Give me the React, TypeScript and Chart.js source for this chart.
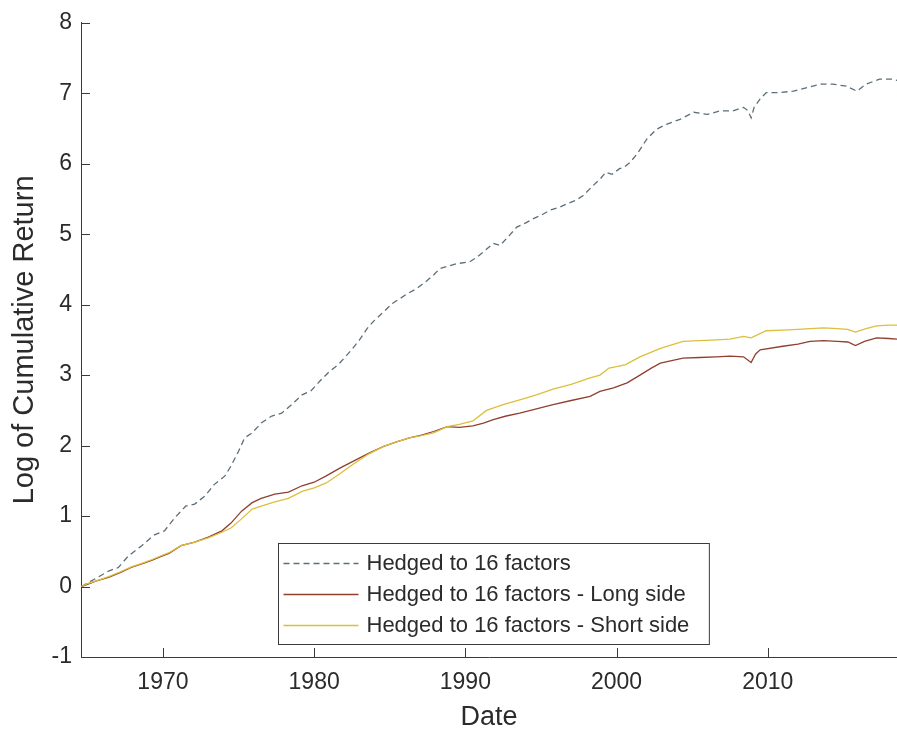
import React, { useEffect, useRef } from 'react';
import { Chart, registerables } from 'chart.js';

Chart.register(...registerables);

// ---- Data ----
const hedgedYears = [
  1964.6, 1965.0, 1965.6, 1966.4, 1967.05, 1967.7, 1968.6, 1969.4, 1970.1, 1970.8,
  1971.5, 1972.1, 1972.8, 1973.4, 1974.1, 1974.5, 1975.0, 1975.4, 1975.9, 1976.5,
  1977.2, 1977.85, 1978.5, 1979.2, 1979.8, 1980.4, 1981.0, 1981.6, 1982.4, 1983.0,
  1983.5, 1984.0, 1984.6, 1985.2, 1985.7, 1986.2, 1986.8, 1987.4, 1987.9, 1988.3,
  1988.9, 1989.4, 1990.3, 1990.8, 1991.2, 1991.85, 1992.3, 1992.9, 1993.4, 1994.0,
  1994.5, 1995.1, 1995.6, 1996.2, 1996.7, 1997.3, 1997.8, 1998.4, 1998.9, 1999.3,
  1999.7, 2000.2, 2000.5, 2000.9, 2001.4, 2002.0, 2002.65, 2003.3, 2004.2, 2005.1,
  2006.0, 2006.85, 2007.7, 2008.4, 2008.7, 2008.9, 2009.1, 2009.5, 2009.9, 2010.8,
  2011.7, 2012.6, 2013.5, 2014.3, 2015.2, 2015.9, 2016.5, 2017.4, 2018.3, 2018.6,
];
const hedgedValues = [
  0.0, 0.05, 0.12, 0.22, 0.27, 0.43, 0.58, 0.73, 0.79, 0.98,
  1.14, 1.17, 1.29, 1.45, 1.57, 1.71, 1.92, 2.11, 2.18, 2.32,
  2.42, 2.46, 2.58, 2.72, 2.78, 2.92, 3.05, 3.15, 3.34, 3.5,
  3.66, 3.78, 3.9, 4.02, 4.09, 4.16, 4.23, 4.33, 4.42, 4.51,
  4.55, 4.58, 4.61, 4.68, 4.75, 4.87, 4.84, 4.98, 5.1, 5.16,
  5.22, 5.28, 5.34, 5.38, 5.43, 5.48, 5.55, 5.68, 5.78, 5.88,
  5.85, 5.93, 5.95, 6.02, 6.15, 6.35, 6.49, 6.56, 6.63, 6.73,
  6.7, 6.75, 6.75, 6.8, 6.75, 6.65, 6.8, 6.92, 7.01, 7.01,
  7.03, 7.08, 7.13, 7.13, 7.1, 7.03, 7.13, 7.2, 7.2, 7.18,
];

const longYears = [
  1964.6, 1965.0, 1965.6, 1966.4, 1967.2, 1967.9, 1968.6, 1969.25, 1969.8, 1970.4,
  1971.2, 1972.1, 1973.0, 1973.9, 1974.5, 1975.2, 1975.9, 1976.5, 1977.4, 1978.3,
  1979.2, 1980.0, 1980.8, 1981.7, 1982.6, 1983.6, 1984.6, 1985.4, 1986.3, 1987.1,
  1987.9, 1988.8, 1989.6, 1990.5, 1991.2, 1991.85, 1992.7, 1993.6, 1994.7, 1995.8,
  1997.0, 1998.25, 1998.9, 1999.8, 2000.7, 2001.55, 2002.3, 2002.9, 2004.4, 2005.5,
  2006.6, 2007.5, 2008.4, 2008.9, 2009.2, 2009.5, 2011.0, 2012.0, 2012.8, 2013.7,
  2014.6, 2015.3, 2015.8, 2016.4, 2017.2, 2018.0, 2018.6,
];
const longValues = [
  0.0, 0.03, 0.08, 0.13, 0.2, 0.27, 0.32, 0.37, 0.42, 0.47,
  0.58, 0.63, 0.7, 0.79, 0.9, 1.07, 1.19, 1.25, 1.31, 1.34,
  1.43, 1.48, 1.57, 1.68, 1.78, 1.89, 1.99, 2.05, 2.11, 2.15,
  2.2, 2.27, 2.26, 2.28, 2.32, 2.37, 2.42, 2.46, 2.52, 2.58,
  2.64, 2.7, 2.77, 2.82, 2.89, 3.0, 3.1, 3.17, 3.24, 3.25,
  3.26, 3.27, 3.26, 3.18, 3.3, 3.36, 3.41, 3.44, 3.48, 3.49,
  3.48, 3.47, 3.42, 3.48, 3.53, 3.52, 3.51,
];

const shortYears = [
  1964.6, 1965.0, 1965.6, 1966.4, 1967.2, 1967.9, 1968.6, 1969.25, 1969.8, 1970.4,
  1971.2, 1972.1, 1973.0, 1973.9, 1974.5, 1975.2, 1975.9, 1976.5, 1977.4, 1978.3,
  1979.2, 1980.0, 1980.8, 1981.7, 1982.6, 1983.6, 1984.6, 1985.4, 1986.3, 1987.1,
  1987.9, 1988.8, 1989.6, 1990.5, 1991.4, 1992.5, 1993.6, 1994.7, 1995.8, 1997.0,
  1998.25, 1998.9, 1999.5, 2000.0, 2000.6, 2001.55, 2002.9, 2004.4, 2005.5, 2006.6,
  2007.5, 2008.4, 2008.9, 2009.9, 2011.0, 2012.0, 2012.8, 2013.7, 2014.6, 2015.3,
  2015.8, 2016.5, 2017.2, 2018.0, 2018.6,
];
const shortValues = [
  0.0, 0.04, 0.08, 0.14, 0.21, 0.28, 0.33, 0.38, 0.43, 0.48,
  0.58, 0.63, 0.69, 0.77, 0.83, 0.96, 1.1, 1.14, 1.2, 1.25,
  1.35, 1.4, 1.47, 1.6, 1.74, 1.88, 1.99, 2.05, 2.11, 2.14,
  2.18, 2.27, 2.3, 2.35, 2.5, 2.58, 2.65, 2.72, 2.8, 2.87,
  2.96, 3.0, 3.1, 3.12, 3.15, 3.26, 3.38, 3.48, 3.49, 3.5,
  3.51, 3.55, 3.53, 3.63, 3.64, 3.65, 3.66, 3.67, 3.66, 3.65,
  3.61, 3.66, 3.7, 3.71, 3.71,
];

const seriesLabels = [
  'Hedged to 16 factors',
  'Hedged to 16 factors - Long side',
  'Hedged to 16 factors - Short side',
];
const xTickYears = [1970, 1980, 1990, 2000, 2010];
const yTickValues = [-1, 0, 1, 2, 3, 4, 5, 6, 7, 8];
const xRange = [1964.58, 2018.55];
const yRange = [-1, 8];
const xTitle = 'Date';
const yTitle = 'Log of Cumulative Return';

const FONT = "'Liberation Sans', Arial, Helvetica, sans-serif";
const TEXT = '#2b2b2b';
const AXIS = '#3a3a3a';
const COLORS = ['#5b6f78', '#8f4030', '#dcbf3a'];

const toPoints = (xs: number[], ys: number[]) => xs.map((x, i) => ({ x, y: ys[i] }));

export default function App() {
  const ref = useRef<HTMLCanvasElement>(null);

  useEffect(() => {
    const canvas = ref.current;
    if (!canvas) return;

    const inwardTicks = {
      id: 'inwardTicks',
      afterDraw(chart: any) {
        const { ctx, chartArea, scales } = chart;
        const len = 9;
        ctx.save();
        ctx.strokeStyle = AXIS;
        ctx.lineWidth = 1;
        ctx.beginPath();
        scales.x.ticks.forEach((t: any) => {
          const px = Math.round(scales.x.getPixelForValue(t.value)) + 0.5;
          ctx.moveTo(px, chartArea.bottom);
          ctx.lineTo(px, chartArea.bottom - len);
        });
        scales.y.ticks.forEach((t: any) => {
          const py = Math.round(scales.y.getPixelForValue(t.value)) + 0.5;
          ctx.moveTo(chartArea.left, py);
          ctx.lineTo(chartArea.left + len, py);
        });
        ctx.stroke();
        ctx.restore();
      },
    };

    const legendBox = {
      id: 'legendBox',
      afterDraw(chart: any) {
        const { ctx, chartArea } = chart;
        const ds = chart.data.datasets;
        ctx.save();
        ctx.font = `22px ${FONT}`;
        const textW = Math.max(...seriesLabels.map((s) => ctx.measureText(s).width));
        const padL = 5, sample = 75, gap = 8, padR = 20;
        const w = padL + sample + gap + textW + padR;
        const h = 101;
        const cx = (chartArea.left + chartArea.right) / 2 + 4;
        const left = Math.round(cx - w / 2) + 0.5;
        const top = Math.round(chartArea.bottom - 13 - h) + 0.5;
        ctx.fillStyle = '#ffffff';
        ctx.fillRect(left, top, w, h);
        ctx.strokeStyle = AXIS;
        ctx.lineWidth = 1;
        ctx.strokeRect(left, top, w, h);
        seriesLabels.forEach((label, i) => {
          const y = top + 20 + i * 31;
          ctx.save();
          ctx.strokeStyle = ds[i].borderColor;
          ctx.lineWidth = ds[i].borderWidth;
          ctx.setLineDash(ds[i].borderDash || []);
          ctx.beginPath();
          ctx.moveTo(left + padL, y);
          ctx.lineTo(left + padL + sample, y);
          ctx.stroke();
          ctx.restore();
          ctx.fillStyle = TEXT;
          ctx.textBaseline = 'middle';
          ctx.textAlign = 'left';
          ctx.fillText(label, left + padL + sample + gap, y);
        });
        ctx.restore();
      },
    };

    const chart = new Chart(canvas, {
      type: 'line',
      data: {
        datasets: [
          {
            label: seriesLabels[0],
            data: toPoints(hedgedYears, hedgedValues),
            borderColor: COLORS[0],
            borderWidth: 1.3,
            borderDash: [6, 4],
            pointRadius: 0,
            tension: 0,
            order: 2,
          },
          {
            label: seriesLabels[1],
            data: toPoints(longYears, longValues),
            borderColor: COLORS[1],
            borderWidth: 1.3,
            pointRadius: 0,
            tension: 0,
            order: 1,
          },
          {
            label: seriesLabels[2],
            data: toPoints(shortYears, shortValues),
            borderColor: COLORS[2],
            borderWidth: 1.3,
            pointRadius: 0,
            tension: 0,
            order: 0,
          },
        ],
      } as any,
      options: {
        animation: false,
        responsive: false,
        layout: { padding: { top: 20, right: 0, bottom: 0, left: 0 } },
        plugins: { legend: { display: false }, tooltip: { enabled: false } },
        scales: {
          x: {
            type: 'linear',
            min: xRange[0],
            max: xRange[1],
            afterBuildTicks: (s: any) => {
              s.ticks = xTickYears.map((v) => ({ value: v }));
            },
            afterFit: (s: any) => {
              s.height = 78;
            },
            grid: { display: false, drawTicks: false },
            border: { display: true, color: AXIS, width: 1 },
            ticks: {
              font: { family: FONT, size: 23 },
              color: TEXT,
              padding: 12,
              maxRotation: 0,
              autoSkip: false,
              callback: (v: any) => String(v),
            },
            title: {
              display: true,
              text: xTitle,
              font: { family: FONT, size: 27 },
              color: TEXT,
              padding: { top: 0, bottom: 1 },
            },
          },
          y: {
            type: 'linear',
            min: yRange[0],
            max: yRange[1],
            afterBuildTicks: (s: any) => {
              s.ticks = yTickValues.map((v) => ({ value: v }));
            },
            afterFit: (s: any) => {
              s.width = 81;
            },
            grid: { display: false, drawTicks: false },
            border: { display: true, color: AXIS, width: 1 },
            ticks: {
              font: { family: FONT, size: 23 },
              color: TEXT,
              padding: 9,
              autoSkip: false,
              callback: (v: any) => String(v),
            },
            title: {
              display: true,
              text: yTitle,
              font: { family: FONT, size: 29 },
              color: TEXT,
              padding: { top: 8, bottom: 0 },
            },
          },
        },
      } as any,
      plugins: [inwardTicks, legendBox],
    });

    return () => chart.destroy();
  }, []);

  return (
    <div style={{ position: 'fixed', left: 0, top: 0, width: 897, height: 735, background: '#fff' }}>
      <canvas ref={ref} width={897} height={735} style={{ display: 'block' }} />
    </div>
  );
}
